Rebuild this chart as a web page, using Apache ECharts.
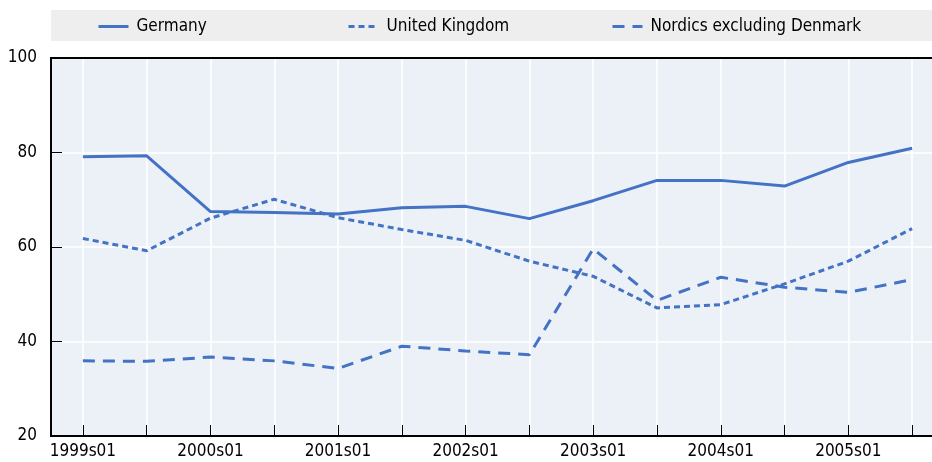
<!DOCTYPE html>
<html>
<head>
<meta charset="utf-8">
<script src="https://cdn.jsdelivr.net/npm/echarts@6/dist/echarts.min.js"></script>
<style>
html,body{margin:0;padding:0;background:#fff;overflow:hidden;width:932px;height:462px;}
#chart{width:944px;height:462px;}
</style>
</head>
<body>
<div id="chart"></div>
<script>
var categories = ['1999s01','1999s02','2000s01','2000s02','2001s01','2001s02','2002s01','2002s02','2003s01','2003s02','2004s01','2004s02','2005s01','2005s02'];
var germany = [79.1, 79.3, 67.5, 67.3, 67.0, 68.3, 68.6, 66.0, 69.8, 74.1, 74.1, 72.9, 77.9, 80.9];
var unitedKingdom = [61.8, 59.2, 66.1, 70.1, 66.2, 63.7, 61.4, 57.0, 53.8, 47.1, 47.8, 52.2, 57.0, 63.9];
var nordics = [35.9, 35.8, 36.7, 35.9, 34.3, 39.0, 38.0, 37.2, 59.6, 48.7, 53.6, 51.5, 50.4, 53.1];
var seriesNames = ['Germany', 'United Kingdom', 'Nordics excluding Denmark'];
var yMin = 20, yMax = 100, yStep = 20;

var FONT = "'Liberation Sans Narrow', 'DejaVu Sans Condensed', 'Liberation Sans', sans-serif";
var BLUE = '#4472C4';

var chart = echarts.init(document.getElementById('chart'), null, {renderer: 'canvas'});

function legendAt(name, left) {
  return {
    data: [name],
    left: left,
    top: 18,
    padding: 0,
    itemWidth: 30,
    itemHeight: 14,
    itemStyle: {opacity: 0},
    lineStyle: {width: 3},
    textStyle: {fontFamily: FONT, fontSize: 17, color: '#000', padding: [0, 0, 0, 3]},
    selectedMode: false
  };
}

var option = {
  animation: false,
  backgroundColor: '#fff',
  graphic: [{
    type: 'rect',
    shape: {x: 51, y: 10, width: 881, height: 31},
    style: {fill: '#eeeeee'},
    z: -10
  }],
  legend: [
    legendAt(seriesNames[0], 97),
    legendAt(seriesNames[1], 347),
    legendAt(seriesNames[2], 611)
  ],
  grid: {
    left: 51, top: 58, right: 0, bottom: 26,
    show: true,
    backgroundColor: '#ecf1f8',
    borderColor: '#000',
    borderWidth: 2,
    containLabel: false
  },
  xAxis: [{
    type: 'category',
    data: categories,
    boundaryGap: true,
    axisLine: {lineStyle: {color: '#000', width: 2}},
    axisTick: {show: true, inside: true, length: 11, alignWithLabel: true, interval: 0, lineStyle: {color: '#000', width: 1}},
    splitLine: {show: true, alignWithLabel: true, interval: 0, lineStyle: {color: '#fff', width: 1.5}},
    axisLabel: {interval: 1, fontFamily: FONT, fontSize: 17, color: '#000', margin: 7}
  }, {
    type: 'category',
    position: 'top',
    data: categories,
    boundaryGap: true,
    z: 10,
    axisLine: {show: true, lineStyle: {color: '#000', width: 2}},
    axisTick: {show: false},
    axisLabel: {show: false},
    splitLine: {show: false}
  }],
  yAxis: {
    type: 'value',
    min: yMin, max: yMax, interval: yStep,
    axisLine: {show: true, lineStyle: {color: '#000', width: 2}},
    axisTick: {show: true, inside: true, length: 11, lineStyle: {color: '#000', width: 1}},
    splitLine: {show: true, showMaxLine: false, lineStyle: {color: '#fff', width: 1.5}},
    axisLabel: {fontFamily: FONT, fontSize: 17, color: '#000', margin: 14, padding: [4, 0, 0, 0]}
  },
  series: [
    {name: seriesNames[0], type: 'line', data: germany, symbol: 'none', color: BLUE,
     lineStyle: {color: BLUE, width: 3, type: 'solid'}},
    {name: seriesNames[1], type: 'line', data: unitedKingdom, symbol: 'none', color: BLUE,
     lineStyle: {color: BLUE, width: 3, type: [6, 4]}},
    {name: seriesNames[2], type: 'line', data: nordics, symbol: 'none', color: BLUE,
     lineStyle: {color: BLUE, width: 3, type: [12, 8]}}
  ]
};
chart.setOption(option);
</script>
</body>
</html>
